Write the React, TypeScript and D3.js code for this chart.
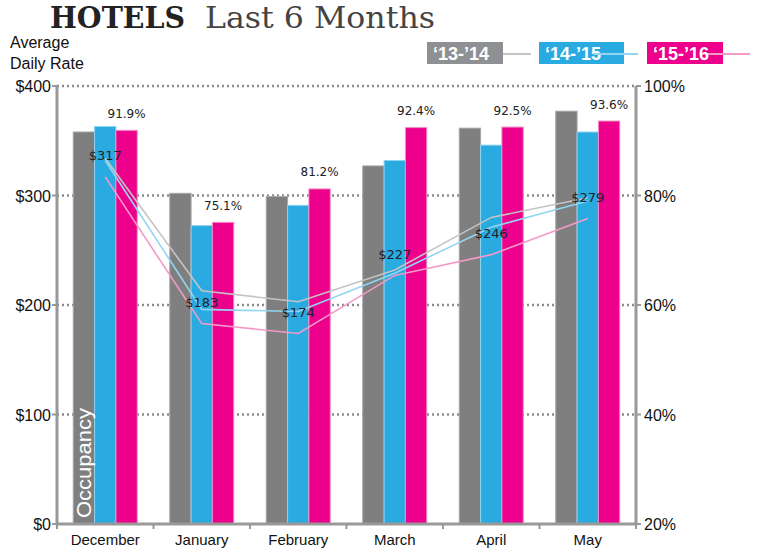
import React, { useEffect } from "react";
import * as d3 from "d3";

const months = ["December", "January", "February", "March", "April", "May"];
const seasons = ["‘13-’14", "‘14-’15", "‘15-’16"];
const occ1314 = [91.6, 80.4, 79.8, 85.4, 92.3, 95.4];
const occ1415 = [92.6, 74.5, 78.2, 86.4, 89.2, 91.6];
const occ1516 = [91.9, 75.1, 81.2, 92.4, 92.5, 93.6];
const adr1314 = [334, 213, 203, 232, 280, 298];
const adr1415 = [332, 196, 194, 229, 271, 295];
const adr1516 = [317, 183, 174, 227, 246, 279];
const adrTicks = [0, 100, 200, 300, 400];
const occTicks = [20, 40, 60, 80, 100];

const barColors = ["#7f7f7f", "#29abe2", "#ec008c"];
const barStroke = ["#a6a6a6", "#8fd3f0", "#f38cc4"];
const lineColors = ["#c4c4c4", "#93d6f2", "#f49ac8"];
const legendBox = ["#8e9093", "#29abe2", "#ec008c"];

export default function App() {
  useEffect(() => {
    document.body.style.margin = "0";
  }, []);

  const W = 757, H = 552;
  const left = 57, right = 636, top = 86, bottom = 524;
  const x = d3.scaleBand<string>().domain(months).range([left, right]).paddingInner(0.337).paddingOuter(0.1685);
  const xs = d3.scaleBand<number>().domain([0, 1, 2]).range([0, x.bandwidth()]);
  const yAdr = d3.scaleLinear().domain([0, 400]).range([bottom, top]);
  const yOcc = d3.scaleLinear().domain([20, 100]).range([bottom, top]);
  const occ = [occ1314, occ1415, occ1516];
  const adr = [adr1314, adr1415, adr1516];
  const step = x.step();
  const center = (m: string) => (x(m) as number) + x.bandwidth() / 2;
  const line = d3.line<number>().x((_, i) => center(months[i])).y((d) => yAdr(d));

  const sans = "'Liberation Sans', Arial, sans-serif";
  const dv = "'DejaVu Sans', Verdana, sans-serif";

  return (
    <svg width={W} height={H} style={{ display: "block" }}>
      <rect width={W} height={H} fill="#fff" />
      {/* title */}
      <text x={50} y={28} fontFamily="'DejaVu Serif', serif" fontWeight="bold" fontSize={29} fill="#222" textLength={135} lengthAdjust="spacingAndGlyphs">HOTELS</text>
      <text x={205} y={28} fontFamily="'DejaVu Serif', serif" fontSize={29} fill="#444" textLength={230} lengthAdjust="spacingAndGlyphs">Last 6 Months</text>
      <text x={10} y={48} fontFamily={sans} fontSize={16} fill="#111">Average</text>
      <text x={10} y={69} fontFamily={sans} fontSize={16} fill="#111">Daily Rate</text>

      {/* legend */}
      {[
        { bx: 427, bw: 76, lx1: 503, lx2: 531 },
        { bx: 539, bw: 85, lx1: 593, lx2: 638 },
        { bx: 647, bw: 76, lx1: 708, lx2: 750 },
      ].map((l, i) => (
        <g key={i}>
          <rect x={l.bx} y={42} width={l.bw} height={22} fill={legendBox[i]} />
          <text x={l.bx + 6} y={60} fontFamily={sans} fontWeight="bold" fontSize={18} fill="#fff">{seasons[i]}</text>
          <line x1={l.lx1} x2={l.lx2} y1={54} y2={54} stroke={lineColors[i]} strokeWidth={2} />
        </g>
      ))}

      {/* gridlines */}
      {adrTicks.filter((t) => t > 0).map((t) => (
        <line key={t} x1={left} x2={right} y1={yAdr(t)} y2={yAdr(t)} stroke="#8a8a8a" strokeWidth={2.5} strokeDasharray="2 3" />
      ))}

      {/* bars */}
      {months.map((m, i) => (
        <g key={m}>
          {occ.map((s, k) => (
            <rect
              key={k}
              x={(x(m) as number) + (xs(k) as number)}
              y={yOcc(s[i])}
              width={xs.bandwidth()}
              height={bottom - yOcc(s[i])}
              fill={barColors[k]}
              stroke={barStroke[k]}
              strokeWidth={1}
            />
          ))}
        </g>
      ))}

      <text transform={`translate(${(x("December") as number) + xs.bandwidth() / 2 + 7},518) rotate(-90)`} fontFamily={sans} fontSize={21} fill="#fff" textLength={110} lengthAdjust="spacingAndGlyphs">Occupancy</text>

      {/* axes */}
      <line x1={left} x2={left} y1={top} y2={bottom + 1.5} stroke="#999" strokeWidth={3} />
      <line x1={right} x2={right} y1={top} y2={bottom + 1.5} stroke="#999" strokeWidth={3} />
      <line x1={left} x2={right} y1={bottom} y2={bottom} stroke="#999" strokeWidth={3} />
      {adrTicks.map((t) => (
        <g key={t}>
          <line x1={left - 5} x2={left} y1={yAdr(t)} y2={yAdr(t)} stroke="#999" strokeWidth={2} />
          <text x={51} y={yAdr(t) + 6} textAnchor="end" fontFamily={sans} fontSize={16} fill="#111">{"$" + t}</text>
        </g>
      ))}
      {occTicks.map((t) => (
        <g key={t}>
          <line x1={right} x2={right + 5} y1={yOcc(t)} y2={yOcc(t)} stroke="#999" strokeWidth={2} />
          <text x={644} y={yOcc(t) + 6} fontFamily={sans} fontSize={16} fill="#111">{t + "%"}</text>
        </g>
      ))}
      {d3.range(months.length + 1).map((i) => (
        <line key={i} x1={left + i * step} x2={left + i * step} y1={bottom} y2={bottom + 5} stroke="#999" strokeWidth={2} />
      ))}
      {months.map((m) => (
        <text key={m} x={center(m)} y={545} textAnchor="middle" fontFamily={sans} fontSize={15} fill="#111">{m}</text>
      ))}

      {/* lines */}
      {adr.map((s, k) => (
        <path key={k} d={line(s) as string} fill="none" stroke={lineColors[k]} strokeWidth={1.6} />
      ))}

      {/* labels */}
      {months.map((m, i) => (
        <g key={m}>
          <text x={(x(m) as number) + (xs(2) as number) + xs.bandwidth() / 2} y={yOcc(occ1516[i]) - 12.5} textAnchor="middle" fontFamily={dv} fontSize={12} fill="#222">{occ1516[i].toFixed(1) + "%"}</text>
          <text x={center(m)} y={yAdr(adr1516[i]) - 16.5} textAnchor="middle" fontFamily={dv} fontSize={13} fill="#222">{"$" + adr1516[i]}</text>
        </g>
      ))}
    </svg>
  );
}
